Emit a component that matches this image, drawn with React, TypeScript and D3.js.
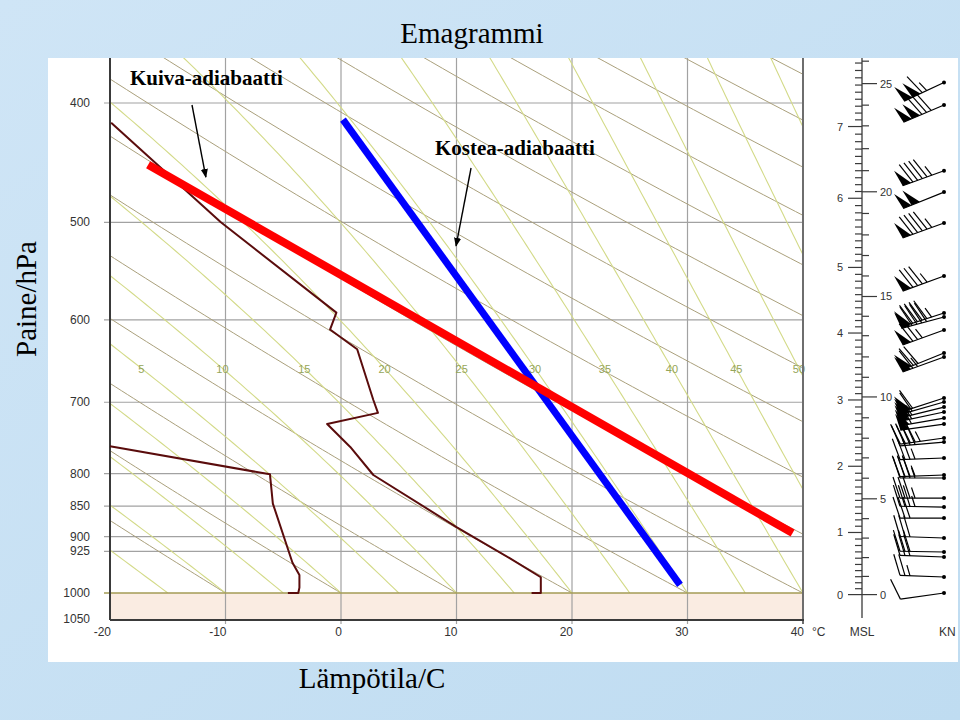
import React from 'react';
import * as d3 from 'd3';

// ---------- data ----------
const PRESSURE_GRID = [400, 500, 600, 700, 800, 850, 900, 925];
const PRESSURE_LABELS = [400, 500, 600, 700, 800, 850, 900, 925, 1000, 1050];
const TEMP_TICKS = [-20, -10, 0, 10, 20, 30, 40];
const TEMP_GRID = [-10, 0, 10, 20, 30];
// dry adiabats (potential temperature, °C at 1000 hPa)
const DRY_THETA = [-10, 0, 10, 20, 30, 40, 50, 60, 70, 80, 90, 100, 110, 120, 130, 140];
// saturated adiabats (wet-bulb potential temperature, °C)
const MOIST_THETAW = [-15, -10, -5, 0, 5, 10, 15, 20, 25, 30, 35, 40, 45, 50, 55, 60, 65, 70];
const MOIST_LABELS = [5, 10, 15, 20, 25, 30, 35, 40, 45, 50];
const MOIST_LABEL_P = 658;

// sounding: temperature
const TEMP_P = [415, 500, 592, 611, 634, 697, 714, 729, 761, 802, 884, 937, 971, 1000, 1000];
const TEMP_T = [-19.9, -10.4, -0.4, -0.95, 1.4, 2.8, 3.2, -1.2, 0.8, 2.8, 10.0, 14.6, 17.3, 17.3, 16.5];
// sounding: dew point
const DEW_P = [760, 801, 846, 945, 967, 990, 1000, 1000];
const DEW_T = [-20, -6.15, -5.9, -4.2, -3.6, -3.6, -3.7, -4.6];

// hand-drawn lines
const KUIVA_T = [-16.7, 39.1];
const KUIVA_P = [449, 894];
const KOSTEA_T = [0.17, 29.35];
const KOSTEA_P = [412.6, 985];

// height scale (km above MSL vs pressure)
const KM_LEVELS = [0, 1, 2, 3, 4, 5, 6, 7, 8];
const KM_PRESSURE = [1003, 893, 789, 697, 615, 544, 478, 418, 366];
const KM_LABELS = [0, 1, 2, 3, 4, 5, 6, 7];
const KFT_LABELS = [0, 5, 10, 15, 20, 25];

// winds
const WIND_P = [385, 401.5, 454, 472.5, 500.6, 552.8, 592.4, 596.8, 611.5, 638.4, 643.2, 694.5, 699.7, 706.3, 712.9, 721, 729.1, 748.4, 754.1, 776.9, 802, 806.5, 837.3, 851.5, 869.2, 902.3, 926.2, 934.9, 970.5, 1000];
const WIND_DIR = [245, 247, 250, 248, 250, 250, 252, 255, 250, 248, 250, 252, 254, 256, 258, 260, 262, 262, 265, 268, 268, 270, 270, 271, 270, 272, 271, 272, 272, 262];
const WIND_SPD = [115, 130, 95, 100, 95, 85, 95, 90, 75, 70, 65, 60, 60, 55, 55, 55, 50, 45, 40, 35, 35, 35, 35, 35, 30, 30, 30, 30, 25, 10];

// ---------- helpers ----------
const Rd = 287.04, cp = 1005.7, Lv = 2.501e6, eps = 0.622;
function satLapse(T: number, p: number) {
  const tc = T - 273.15;
  const es = 6.112 * Math.exp((17.67 * tc) / (tc + 243.5));
  const rs = (eps * es) / (p - es);
  return (Rd * T + Lv * rs) / (cp + (Lv * Lv * rs * eps) / (Rd * T * T));
}
function moistCurve(tw: number) {
  const pts: [number, number][] = [];
  let T = tw + 273.15;
  let lnp = Math.log(1000);
  const h = -0.01;
  const end = Math.log(350);
  while (lnp > end) {
    pts.push([T - 273.15, Math.exp(lnp)]);
    const k1 = satLapse(T, Math.exp(lnp));
    const k2 = satLapse(T + (h * k1) / 2, Math.exp(lnp + h / 2));
    const k3 = satLapse(T + (h * k2) / 2, Math.exp(lnp + h / 2));
    const k4 = satLapse(T + h * k3, Math.exp(lnp + h));
    T += (h * (k1 + 2 * k2 + 2 * k3 + k4)) / 6;
    lnp += h;
  }
  return pts;
}
function dryCurve(th: number) {
  const pts: [number, number][] = [];
  for (let p = 1000; p >= 350; p -= 5) pts.push([(th + 273.15) * Math.pow(p / 1000, 0.2857) - 273.15, p]);
  return pts;
}

const SANS = 'Arial, "Liberation Sans", sans-serif';
const SERIF = '"Times New Roman", "Liberation Serif", serif';

export default function App() {
  const x = d3.scaleLinear().domain([-20, 40]).range([110, 803]);
  const y = d3.scaleLog().domain([400, 1000]).range([103, 593]);
  const X0 = x(-20), X1 = x(40);
  const YTOP = 58, YBOT = 620;
  const line = d3.line<[number, number]>().x((d) => x(d[0])).y((d) => y(d[1]));

  const kmToP = d3.scaleLinear().domain(KM_LEVELS).range(KM_PRESSURE);
  const AX = 862; // height axis x
  const BARB_X = 944;

  const moist = MOIST_THETAW.map((t) => ({ t, pts: moistCurve(t) }));
  const labelPos = MOIST_LABELS.map((t) => {
    const c = moist.find((m) => m.t === t)!.pts;
    let best = c[0];
    for (const q of c) if (Math.abs(q[1] - MOIST_LABEL_P) < Math.abs(best[1] - MOIST_LABEL_P)) best = q;
    return { t, T: best[0] };
  });

  const tempPts = TEMP_P.map((p, i) => [TEMP_T[i], p] as [number, number]);
  const dewPts = DEW_P.map((p, i) => [DEW_T[i], p] as [number, number]);

  // wind barb builder
  const barbs = WIND_P.map((p, i) => {
    const py = y(p);
    const px = BARB_X;
    const rad = (WIND_DIR[i] * Math.PI) / 180;
    const sx = Math.sin(rad), sy = -Math.cos(rad);
    const L = 44;
    const tx = px + sx * L, ty = py + sy * L;
    const nx = -sy, ny = sx;
    const BL = 21;
    let rem = Math.round(WIND_SPD[i] / 5) * 5;
    let pos = 0;
    const lines: string[] = [];
    const polys: string[] = [];
    const at = (d: number) => [tx - sx * d, ty - sy * d];
    while (rem >= 50) {
      const [ax, ay] = at(pos);
      const [bx, by] = at(pos + 9);
      const cx = ax + nx * 17 + sx * 3, cy = ay + ny * 17 + sy * 3;
      polys.push(`${ax},${ay} ${bx},${by} ${cx},${cy}`);
      pos += 9;
      rem -= 50;
    }
    if (pos > 0) pos += 2;
    while (rem >= 10) {
      const [ax, ay] = at(pos);
      lines.push(`M${ax},${ay}L${ax + nx * BL + sx * 7},${ay + ny * BL + sy * 7}`);
      pos += 5;
      rem -= 10;
    }
    if (rem >= 5) {
      if (pos === 0) pos = 5;
      const [ax, ay] = at(pos);
      lines.push(`M${ax},${ay}L${ax + nx * BL * 0.5 + sx * 3.5},${ay + ny * BL * 0.5 + sy * 3.5}`);
    }
    return { px, py, tx, ty, lines, polys };
  });

  const kmMinor = d3.range(0, 80.5, 1).map((k) => k / 10);
  const kftMinor = d3.range(0, 27, 1);

  return (
    <svg width={960} height={720} style={{ position: 'absolute', left: 0, top: 0 }}>
      <defs>
        <linearGradient id="bg" x1="0" y1="0" x2="1" y2="1">
          <stop offset="0" stopColor="#cfe5f6" />
          <stop offset="1" stopColor="#bfdcf1" />
        </linearGradient>
        <clipPath id="plotClip">
          <rect x={X0} y={YTOP} width={X1 - X0} height={y(1000) - YTOP} />
        </clipPath>
        <clipPath id="panelClip">
          <rect x={48} y={YTOP} width={910} height={604} />
        </clipPath>
        <marker id="ah" viewBox="0 0 10 10" refX="9" refY="5" markerWidth="9" markerHeight="9" markerUnits="userSpaceOnUse" orient="auto">
          <path d="M0,1 L10,5 L0,9 z" fill="#000" />
        </marker>
      </defs>
      <rect x={0} y={0} width={960} height={720} fill="url(#bg)" />
      <g clipPath="url(#panelClip)">
        <rect x={48} y={YTOP} width={910} height={604} fill="#ffffff" />
        {/* below-ground band */}
        <rect x={X0} y={y(1000)} width={X1 - X0} height={YBOT - y(1000)} fill="#faece2" />
        {/* grid */}
        {PRESSURE_GRID.map((p) => (
          <line key={'hp' + p} x1={X0 - 6} x2={X1} y1={y(p)} y2={y(p)} stroke="#a2a2a2" strokeWidth={1.2} />
        ))}
        {TEMP_GRID.map((t) => (
          <line key={'vt' + t} x1={x(t)} x2={x(t)} y1={YTOP} y2={YBOT + 4} stroke="#a2a2a2" strokeWidth={1.2} />
        ))}
        <g clipPath="url(#plotClip)" fill="none">
          {DRY_THETA.map((th) => (
            <path key={'d' + th} d={line(dryCurve(th)) || ''} stroke="#aaa07c" strokeWidth={1} />
          ))}
          {moist.map((m) => (
            <path key={'m' + m.t} d={line(m.pts) || ''} stroke="#d3da88" strokeWidth={1.1} />
          ))}
        </g>
        {labelPos.map((l) => (
          <text key={'ml' + l.t} x={x(l.T)} y={y(MOIST_LABEL_P)} fontFamily={SANS} fontSize={11} fill="#95a55a" textAnchor="middle" dominantBaseline="central">
            {l.t}
          </text>
        ))}
        {/* 1000 hPa line */}
        <line x1={X0 - 6} x2={X1} y1={y(1000)} y2={y(1000)} stroke="#a39b55" strokeWidth={1.5} />
        {/* frame */}
        <line x1={X1} x2={X1} y1={YTOP} y2={YBOT + 4} stroke="#6e6e6e" strokeWidth={2} />
        <line x1={X0} x2={X0} y1={YTOP} y2={YBOT} stroke="#3a3a3a" strokeWidth={2} />
        <line x1={X0} x2={X1 + 1} y1={YBOT} y2={YBOT} stroke="#3a3a3a" strokeWidth={2} />
        {/* pressure labels */}
        {PRESSURE_LABELS.map((p) => (
          <text key={'pl' + p} x={90} y={y(p)} fontFamily={SANS} fontSize={12} fill="#333" textAnchor="end" dominantBaseline="central">
            {p}
          </text>
        ))}
        {TEMP_TICKS.map((t) => (
          <text key={'tl' + t} x={x(t) + 1} y={632} fontFamily={SANS} fontSize={12} fill="#333" textAnchor="end" dominantBaseline="central">
            {t}
          </text>
        ))}
        <text x={812} y={632} fontFamily={SANS} fontSize={12} fill="#333" dominantBaseline="central">°C</text>
        <text x={AX} y={632} fontFamily={SANS} fontSize={12} fill="#333" textAnchor="middle" dominantBaseline="central">MSL</text>
        <text x={939} y={632} fontFamily={SANS} fontSize={12} fill="#333" dominantBaseline="central">KN</text>

        {/* sounding */}
        <path d={line(dewPts) || ''} fill="none" stroke="#5a0c0c" strokeWidth={2} strokeLinejoin="round" />
        <path d={line(tempPts) || ''} fill="none" stroke="#5a0c0c" strokeWidth={2} strokeLinejoin="round" />

        {/* hand-drawn adiabats */}
        <line x1={x(KOSTEA_T[0])} y1={y(KOSTEA_P[0])} x2={x(KOSTEA_T[1])} y2={y(KOSTEA_P[1])} stroke="#0000ff" strokeWidth={7} />
        <line x1={x(KUIVA_T[0])} y1={y(KUIVA_P[0])} x2={x(KUIVA_T[1])} y2={y(KUIVA_P[1])} stroke="#ff0000" strokeWidth={8} />

        {/* height axis */}
        <line x1={AX} x2={AX} y1={YTOP} y2={YBOT - 2} stroke="#3a3a3a" strokeWidth={1.3} />
        {kmMinor.map((k) => {
          const yy = y(kmToP(k));
          if (yy < YTOP) return null;
          const major = Math.abs(k - Math.round(k)) < 1e-6;
          return <line key={'km' + k} x1={major ? AX - 14 : AX - 7} x2={AX} y1={yy} y2={yy} stroke="#3a3a3a" strokeWidth={1.2} />;
        })}
        {kftMinor.map((f) => {
          const yy = y(kmToP(f * 0.3048));
          if (yy < YTOP) return null;
          const major = f % 5 === 0;
          return <line key={'ft' + f} x1={AX} x2={major ? AX + 15 : AX + 7} y1={yy} y2={yy} stroke="#3a3a3a" strokeWidth={1.2} />;
        })}
        {KM_LABELS.map((k) => (
          <text key={'kml' + k} x={AX - 19} y={y(kmToP(k))} fontFamily={SANS} fontSize={11} fill="#333" textAnchor="end" dominantBaseline="central">
            {k}
          </text>
        ))}
        {KFT_LABELS.map((f) => (
          <text key={'ftl' + f} x={AX + 18} y={y(kmToP(f * 0.3048))} fontFamily={SANS} fontSize={11} fill="#333" dominantBaseline="central">
            {f}
          </text>
        ))}
        {/* wind barbs */}
        {barbs.map((b, i) => (
          <g key={'wb' + i}>
            <line x1={b.px} y1={b.py} x2={b.tx} y2={b.ty} stroke="#000" strokeWidth={1.2} />
            {b.lines.map((d, j) => (
              <path key={j} d={d} stroke="#000" strokeWidth={1.2} fill="none" />
            ))}
            {b.polys.map((pp, j) => (
              <polygon key={'p' + j} points={pp} fill="#000" />
            ))}
            <circle cx={b.px} cy={b.py} r={2} fill="#000" />
          </g>
        ))}

        {/* annotations */}
        <text x={x(-18.27)} y={y(386.8)} fontFamily={SERIF} fontWeight="bold" fontSize={21} fill="#000">Kuiva-adiabaatti</text>
        <line x1={x(-12.9)} y1={y(401.5)} x2={x(-11.7)} y2={y(459.4)} stroke="#000" strokeWidth={1.4} markerEnd="url(#ah)" />
        <text x={x(8.14)} y={y(440.5)} fontFamily={SERIF} fontWeight="bold" fontSize={21} fill="#000">Kostea-adiabaatti</text>
        <line x1={x(11.26)} y1={y(451.7)} x2={x(9.96)} y2={y(522.6)} stroke="#000" strokeWidth={1.4} markerEnd="url(#ah)" />
      </g>

      {/* titles */}
      <text x={472} y={43} fontFamily={SERIF} fontSize={29} fill="#000" textAnchor="middle">Emagrammi</text>
      <text transform="translate(36,299) rotate(-90)" fontFamily={SERIF} fontSize={29} fill="#000" textAnchor="middle">Paine/hPa</text>
      <text x={372} y={688} fontFamily={SERIF} fontSize={29} fill="#000" textAnchor="middle">Lämpötila/C</text>
    </svg>
  );
}
